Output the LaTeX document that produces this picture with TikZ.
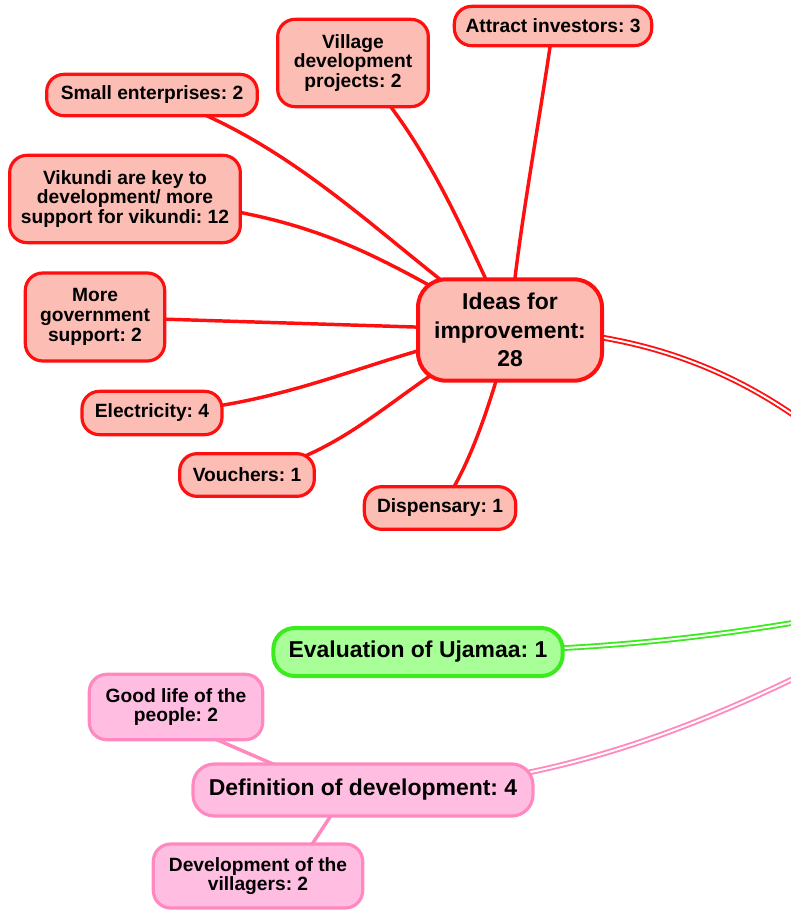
\documentclass[tikz,border=0pt]{standalone}
\usepackage{fontspec}
\setmainfont{Liberation Sans}
\usetikzlibrary{backgrounds,calc}
\frenchspacing

\definecolor{redline}{RGB}{255,16,16}
\definecolor{redfill}{RGB}{252,190,180}
\definecolor{greenline}{RGB}{60,235,30}
\definecolor{greenfill}{RGB}{168,255,152}
\definecolor{pinkline}{RGB}{255,136,190}
\definecolor{pinkfill}{RGB}{255,190,225}

\tikzset{
  box/.style={rounded corners=13pt, line width=2.4pt, align=center, inner sep=0pt,
    font=\bfseries\fontsize{14.4}{14.8}\selectfont},
  bigbox/.style={box, rounded corners=21pt, line width=3pt,
    font=\bfseries\fontsize{17.2}{21.4}\selectfont},
  widebox/.style={bigbox, rounded corners=16pt},
  redbox/.style={draw=redline, fill=redfill},
  greenbox/.style={draw=greenline, fill=greenfill},
  pinkbox/.style={draw=pinkline, fill=pinkfill},
  redlink/.style={draw=redline, line width=2.6pt},
  pinklink/.style={draw=pinkline, line width=2.6pt},
  mainlink/.style={line width=1.4pt, double=white, double distance=1.5pt},
}

\begin{document}
\begin{tikzpicture}[x=0.75pt, y=-0.75pt]
\useasboundingbox (0,0) rectangle (790,912);
\clip (0,0) rectangle (790,912);

% central theme sits to the right, outside the frame
\coordinate (root) at (960,590);

% --- Ideas for improvement branch ---
\node[bigbox, redbox, minimum width=138pt, minimum height=76pt] (ideas) at (510,330)
  {Ideas for\\improvement:\\28};
\node[box, redbox, minimum width=148pt, minimum height=29.5pt] (attract) at (553,26)
  {Attract investors: 3};
\node[box, redbox, minimum width=113pt, minimum height=65.5pt] (village) at (353,63)
  {Village\\development\\projects: 2};
\node[box, redbox, minimum width=158pt, minimum height=31pt] (smallent) at (152,95)
  {Small enterprises: 2};
\node[box, redbox, minimum width=173pt, minimum height=65.5pt] (vikundi) at (125,199)
  {Vikundi are key to\\development/ more\\support for vikundi: 12};
\node[box, redbox, minimum width=104.5pt, minimum height=66pt] (govt) at (95,317)
  {More\\government\\support: 2};
\node[box, redbox, minimum width=105pt, minimum height=32.5pt] (elec) at (152,413)
  {Electricity: 4};
\node[box, redbox, minimum width=101pt, minimum height=32pt] (vouch) at (247,475)
  {Vouchers: 1};
\node[box, redbox, minimum width=113.5pt, minimum height=32pt] (disp) at (440,508)
  {Dispensary: 1};

% --- Evaluation of Ujamaa ---
\node[widebox, greenbox, minimum width=217pt, minimum height=36pt] (eval) at (418,652)
  {Evaluation of Ujamaa: 1};

% --- Definition of development branch ---
\node[widebox, pinkbox, line width=2.4pt,
      minimum width=255pt, minimum height=39pt] (defn) at (363,790)
  {Definition of development: 4};
\node[box, pinkbox, minimum width=130pt, minimum height=49pt] (good) at (176,707)
  {Good life of the\\people: 2};
\node[box, pinkbox, minimum width=157pt, minimum height=48pt] (vill) at (258,876)
  {Development of the\\villagers: 2};

\begin{scope}[on background layer]
  % sub-topic links
  \draw[redlink] (ideas.center) .. controls (515,250) and (540,120) .. (attract.center);
  \draw[redlink] (ideas.center) .. controls (470,250) and (430,140) .. (village.center);
  \draw[redlink] (ideas.center) .. controls (400,260) and (300,140) .. (smallent.center);
  \draw[redlink] (ideas.center) .. controls (380,260) and (320,210) .. (vikundi.center);
  \draw[redlink] (ideas.center) -- (govt.center);
  \draw[redlink] (ideas.center) .. controls (380,350) and (300,405) .. (elec.center);
  \draw[redlink] (ideas.center) .. controls (400,380) and (360,450) .. (vouch.center);
  \draw[redlink] (ideas.center) .. controls (495,390) and (470,470) .. (disp.center);
  \draw[pinklink] ($(good.center)+(0,15)$) -- ($(defn.center)+(0,13)$);
  \draw[pinklink] ($(vill.center)+(33,0)$) -- ($(defn.center)+(-15,0)$);
  % main branches toward the central theme
  \draw[mainlink, draw=redline] (ideas.center) .. controls (720,330) and (860,440) .. (root);
  \draw[mainlink, draw=greenline] (eval.center) .. controls (650,652) and (800,625) .. (root);
  \draw[mainlink, draw=pinkline] (defn.center) .. controls (600,790) and (800,680) .. (root);
\end{scope}
\end{tikzpicture}
\end{document}
